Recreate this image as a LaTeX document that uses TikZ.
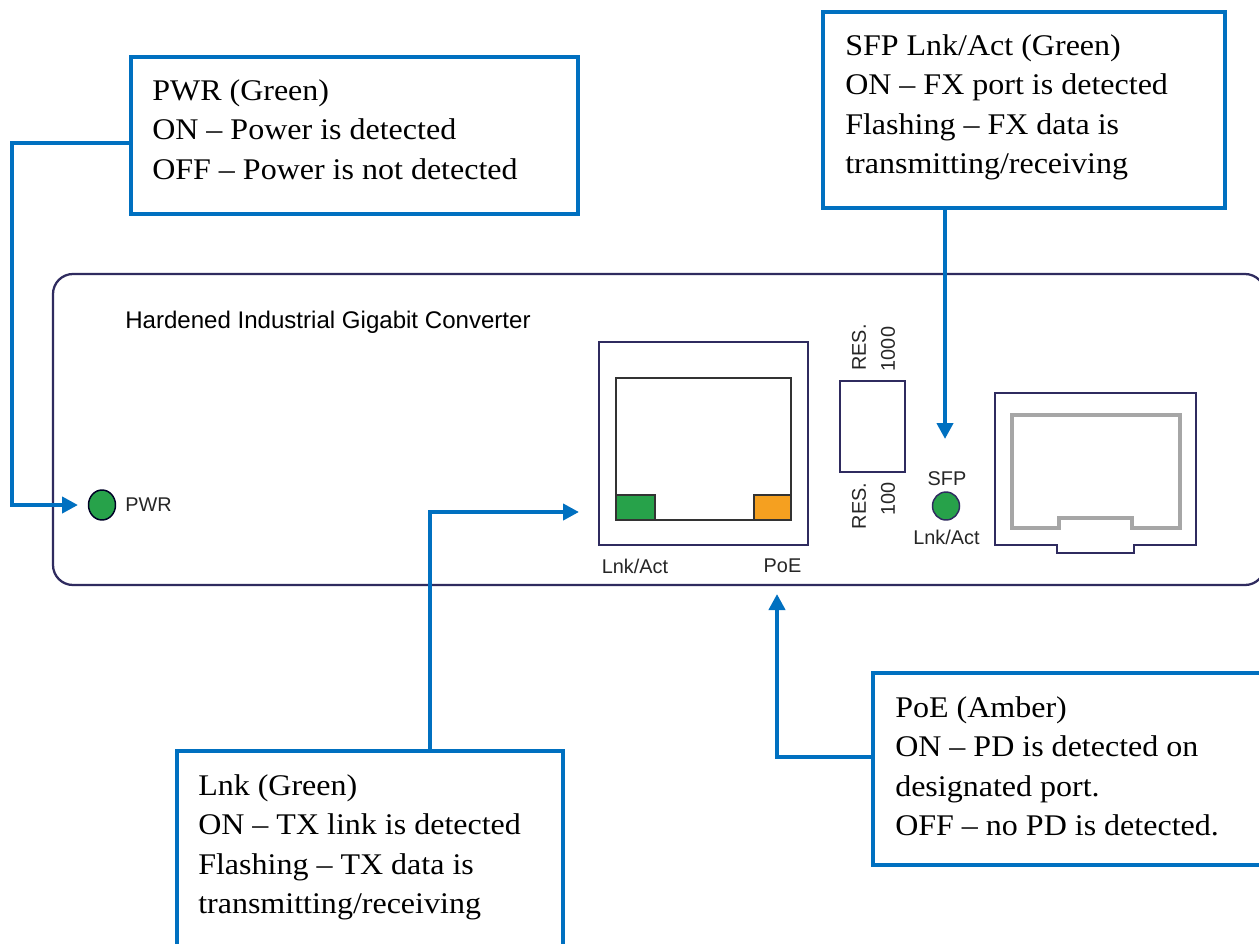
\documentclass[tikz,border=0pt]{standalone}
\usepackage{fontspec}
\setmainfont[FakeStretch=1.067]{Liberation Serif}
\newfontfamily\labelfont{Liberation Sans}
\usetikzlibrary{arrows.meta,shapes.geometric}
\definecolor{linkblue}{HTML}{0070C0}
\definecolor{devline}{HTML}{2F2B5F}
\definecolor{ledgreen}{HTML}{27A24A}
\definecolor{ledamber}{HTML}{F5A020}
\definecolor{cagegray}{HTML}{A6A6A6}
\tikzset{
  callout/.style={draw=linkblue,line width=2.7pt,fill=white,rectangle,anchor=north west,inner sep=0pt,outer sep=0pt},
  callouttext/.style={anchor=north west,align=left,inner sep=0pt,font=\fontsize{22.5pt}{29.7pt}\selectfont},
  conn/.style={draw=linkblue,line width=3pt,-{Triangle[length=12pt,width=12pt]}},
  part/.style={draw=devline,line width=1.7pt,fill=white,rectangle,anchor=north west,inner sep=0pt,outer sep=0pt},
  thinpart/.style={draw=black!80,line width=0.8pt,rectangle,anchor=north west,inner sep=0pt,outer sep=0pt},
  led/.style={draw=black!85!blue,line width=1.1pt,fill=ledgreen,ellipse,inner sep=0pt,outer sep=0pt},
  small/.style={font=\labelfont\fontsize{14.9pt}{16pt}\selectfont,inner sep=0pt,text=black!85},
}
\begin{document}
\begin{tikzpicture}[x=0.75pt,y=-0.75pt]
\clip (0,0) rectangle (1259,943);
\fill[white] (0,0) rectangle (1259,943);
% device
\node[part,rounded corners=15pt,minimum width=909pt,minimum height=233.25pt] (device) at (53,274) {};
\node[anchor=west,inner sep=0pt,font=\labelfont\fontsize{18.05pt}{20pt}\selectfont] (title) at (125,322) {Hardened Industrial Gigabit Converter};
% RJ45
\node[part,minimum width=156.75pt,minimum height=152.25pt] (rj) at (599,342) {};
\node[thinpart,minimum width=131.25pt,minimum height=106.5pt] (rjin) at (616,378) {};
\node[thinpart,fill=ledgreen,minimum width=29.25pt,minimum height=18.75pt] (rjg) at (616,495) {};
\node[thinpart,fill=ledamber,minimum width=27.75pt,minimum height=18.75pt] (rja) at (754,495) {};
\node[small] (lnk1) at (635,566) {Lnk/Act};
\node[small] (poe1) at (782.5,566) {PoE};
% switch
\node[part,minimum width=48.75pt,minimum height=68.25pt] (sw) at (840,381) {};
\node[small,rotate=90] (res1) at (859,347.5) {RES.};
\node[small,rotate=90] (res2) at (888,349) {1000};
\node[small,rotate=90] (res3) at (859,506) {RES.};
\node[small,rotate=90] (res4) at (888,499) {100};
% SFP led
\node[led,draw=devline,minimum width=20.25pt,minimum height=21pt] (sfpled) at (946,506) {};
\node[small] (sfp) at (947,479) {SFP};
\node[small] (lnk2) at (946.5,537) {Lnk/Act};
% SFP cage
\draw[draw=cagegray,line width=2.6pt,line join=miter] (1059,528) -- (1012,528) -- (1012,415) -- (1180,415) -- (1180,528) -- (1132,528) -- (1132,518) -- (1059,518) -- cycle;
\draw[draw=devline,line width=1.7pt,line join=miter] (995,393) -- (1196,393) -- (1196,545) -- (1134,545) -- (1134,553) -- (1057,553) -- (1057,545) -- (995,545) -- cycle;
% PWR led
\node[led,minimum width=20.25pt,minimum height=22.5pt] (pwrled) at (102,505) {};
\node[small,anchor=west] (pwr) at (125,505) {PWR};
% callouts
\node[callout,minimum width=335.25pt,minimum height=117.75pt] (pwrbox) at (131,57) {};
\node[callouttext] (pwrtext) at (152,79) {PWR (Green)\\ON – Power is detected\\OFF – Power is not detected};
\node[callout,minimum width=301.5pt,minimum height=147pt] (sfpbox) at (823,12) {};
\node[callouttext] (sfptext) at (845,34) {SFP Lnk/Act (Green)\\ON – FX port is detected\\Flashing – FX data is\\transmitting/receiving};
\node[callout,minimum width=289.5pt,minimum height=150pt] (lnkbox) at (177,751) {};
\node[callouttext] (lnktext) at (198,774) {Lnk (Green)\\ON – TX link is detected\\Flashing – TX data is\\transmitting/receiving};
\node[callout,minimum width=300pt,minimum height=144pt] (poebox) at (873,673) {};
\node[callouttext] (poetext) at (895,696) {PoE (Amber)\\ON – PD is detected on\\designated port.\\OFF – no PD is detected.};
% connectors
\coordinate (pwrtip) at (78,505);
\coordinate (sfptip) at (945,439);
\coordinate (lnktip) at (579,512);
\coordinate (poetip) at (777,594);
\draw[conn] (pwrbox.west |- 0,143) -- (12,143) -- (12,505) -- (pwrtip);
\draw[conn] (sfpbox.south -| 945,0) -- (sfptip);
\draw[conn] (lnkbox.north -| 430,0) -- (430,512) -- (lnktip);
\draw[conn] (poebox.west |- 0,757) -- (777,757) -- (poetip);
\end{tikzpicture}
\end{document}
